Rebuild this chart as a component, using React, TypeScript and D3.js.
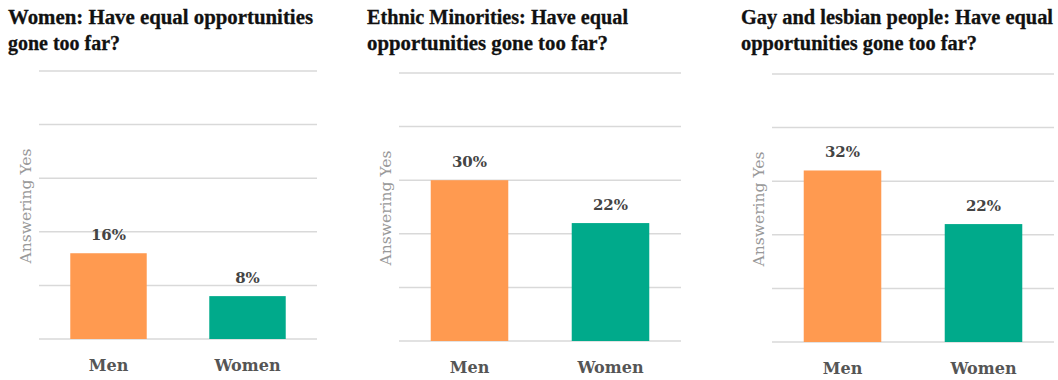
import React from "react";
import * as d3 from "d3";

const categories = ["Men", "Women"];
const titles = [
  ["Women: Have equal opportunities", "gone too far?"],
  ["Ethnic Minorities: Have equal", "opportunities gone too far?"],
  ["Gay and lesbian people: Have equal", "opportunities gone too far?"],
];
const womenPanelValues = [16, 8];
const ethnicPanelValues = [30, 22];
const gayPanelValues = [32, 22];
const panelValues = [womenPanelValues, ethnicPanelValues, gayPanelValues];
const yTicks = [0, 10, 20, 30, 40, 50];
const axisLabel = "Answering Yes";
const colors = ["#FF9A50", "#00AA8B"];

const panels = [
  { left: 39, right: 317, top: 71, bottom: 339, titleX: 8, titleW: [305, 112] },
  { left: 399, right: 681, top: 73, bottom: 341, titleX: 367, titleW: [261, 241] },
  { left: 772, right: 1054, top: 74, bottom: 342, titleX: 741, titleW: [312, 236] },
];

const serif = "'DejaVu Serif', serif";
const titleFont = "'Liberation Serif', serif";

function Panel({ idx }: { idx: number }) {
  const p = panels[idx];
  const values = panelValues[idx];
  const x = d3
    .scaleBand<string>()
    .domain(categories)
    .range([p.left, p.right])
    .paddingInner(0.45)
    .paddingOuter(0.225);
  const y = d3.scaleLinear().domain([0, 50]).range([p.bottom, p.top]);
  return (
    <g>
      {titles[idx].map((t, i) => (
        <text
          key={i}
          x={p.titleX}
          y={24 + i * 26}
          fontFamily={titleFont}
          fontWeight="bold"
          fontSize={20.5}
          fill="#111"
          stroke="#111"
          strokeWidth={0.3}
          textLength={p.titleW[i]}
          lengthAdjust="spacingAndGlyphs"
        >
          {t}
        </text>
      ))}
      {yTicks.map((t) => (
        <line
          key={t}
          x1={p.left}
          x2={p.right}
          y1={y(t)}
          y2={y(t)}
          stroke="#d9d9d9"
          strokeWidth={1.5}
        />
      ))}
      <text
        transform={`translate(${p.left - 8},${(p.top + p.bottom) / 2 + 1}) rotate(-90)`}
        textAnchor="middle"
        fontFamily={serif}
        fontSize={15.5}
        fill="#999"
      >
        {axisLabel}
      </text>
      {categories.map((c, i) => (
        <g key={c}>
          <rect
            x={x(c)}
            y={y(values[i])}
            width={x.bandwidth()}
            height={y(0) - y(values[i])}
            fill={colors[i]}
          />
          <text
            x={(x(c) as number) + x.bandwidth() / 2}
            y={y(values[i]) - 13}
            textAnchor="middle"
            fontFamily={serif}
            fontWeight="bold"
            fontSize={15}
            fill="#444"
          >
            {values[i]}%
          </text>
          <text
            x={(x(c) as number) + x.bandwidth() / 2}
            y={p.bottom + 32}
            textAnchor="middle"
            fontFamily={serif}
            fontWeight="bold"
            fontSize={16}
            fill="#555"
          >
            {c}
          </text>
        </g>
      ))}
    </g>
  );
}

export default function App() {
  return (
    <svg
      width={1058}
      height={380}
      style={{ position: "absolute", left: 0, top: 0, background: "#fff" }}
    >
      <rect width={1058} height={380} fill="#fff" />
      {panels.map((_, i) => (
        <Panel key={i} idx={i} />
      ))}
    </svg>
  );
}
